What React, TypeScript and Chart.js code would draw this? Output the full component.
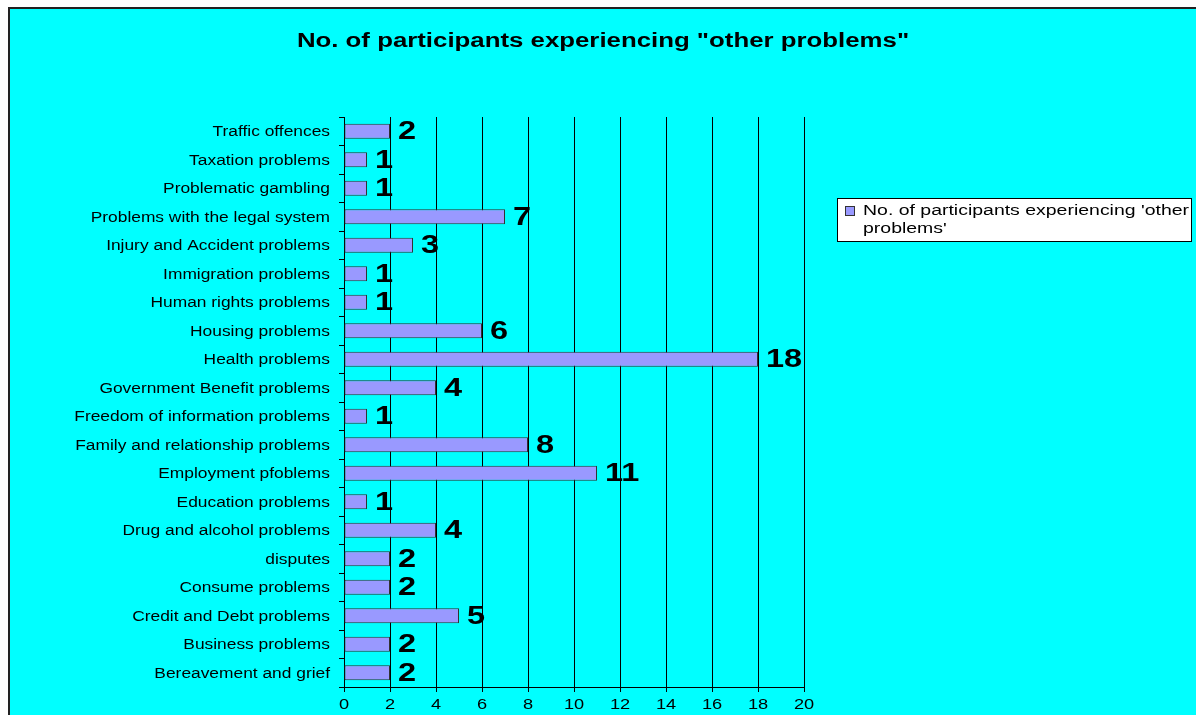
import React, { useEffect, useRef } from "react";
import { Chart, registerables } from "chart.js";

Chart.register(...registerables);

const categories = [
  "Bereavement and grief",
  "Business problems",
  "Credit and Debt problems",
  "Consume problems",
  "disputes",
  "Drug and alcohol problems",
  "Education problems",
  "Employment pfoblems",
  "Family and relationship problems",
  "Freedom of information problems",
  "Government Benefit problems",
  "Health problems",
  "Housing problems",
  "Human rights problems",
  "Immigration problems",
  "Injury and Accident problems",
  "Problems with the legal system",
  "Problematic gambling",
  "Taxation problems",
  "Traffic offences",
];

const participants = [2, 2, 5, 2, 2, 4, 1, 11, 8, 1, 4, 18, 6, 1, 1, 3, 7, 1, 1, 2];

const xTicks = [0, 2, 4, 6, 8, 10, 12, 14, 16, 18, 20];

const titleText = 'No. of participants experiencing "other problems"';
const legendLines = ["No. of participants experiencing 'other", "problems'"];

const W = 1188;
const H = 708;
const FONT = "'Liberation Sans', Arial, sans-serif";

function stretchText(
  ctx: CanvasRenderingContext2D,
  text: string,
  x: number,
  y: number,
  sx: number,
  align: CanvasTextAlign
) {
  ctx.save();
  ctx.translate(x, y);
  ctx.scale(sx, 1);
  ctx.textAlign = align;
  ctx.fillText(text, 0, 0);
  ctx.restore();
}

export default function App() {
  const ref = useRef<HTMLCanvasElement | null>(null);

  useEffect(() => {
    if (!ref.current) return;

    const decor = {
      id: "decor",
      beforeDraw(chart: any) {
        const ctx = chart.ctx;
        ctx.save();
        ctx.fillStyle = "#00FFFF";
        ctx.fillRect(0, 0, chart.width, chart.height);
        ctx.strokeStyle = "#222";
        ctx.lineWidth = 2;
        ctx.beginPath();
        ctx.moveTo(1, chart.height);
        ctx.lineTo(1, 1);
        ctx.lineTo(chart.width, 1);
        ctx.stroke();
        ctx.restore();
      },
      afterDraw(chart: any) {
        const ctx = chart.ctx as CanvasRenderingContext2D;
        ctx.save();
        ctx.fillStyle = "#000";
        ctx.textBaseline = "middle";

        // title
        ctx.font = `bold 20px ${FONT}`;
        stretchText(ctx, titleText, 595, 34, 1.29, "center");

        // category labels
        const ys = chart.scales.y;
        ctx.font = `14px ${FONT}`;
        categories.forEach((c, i) => {
          stretchText(ctx, c, 322, ys.getPixelForValue(i) + 1, 1.24, "right");
        });

        // x tick labels
        const xs = chart.scales.x;
        xTicks.forEach((v) => {
          stretchText(ctx, String(v), xs.getPixelForValue(v), 698, 1.3, "center");
        });

        // data labels
        const meta = chart.getDatasetMeta(0);
        ctx.font = `bold 25px ${FONT}`;
        meta.data.forEach((bar: any, i: number) => {
          stretchText(ctx, String(participants[i]), bar.x + 8, bar.y + 1, 1.3, "left");
        });

        // legend
        const lx = 829.5, ly = 191.5, lw = 354, lh = 43;
        ctx.fillStyle = "#fff";
        ctx.fillRect(lx, ly, lw, lh);
        ctx.strokeStyle = "#000";
        ctx.lineWidth = 1;
        ctx.strokeRect(lx, ly, lw, lh);
        ctx.fillStyle = "#9999FF";
        ctx.fillRect(837.5, 199.5, 9, 9);
        ctx.strokeStyle = "#333";
        ctx.strokeRect(837.5, 199.5, 9, 9);
        ctx.fillStyle = "#000";
        ctx.font = `14px ${FONT}`;
        stretchText(ctx, legendLines[0], 855, 204, 1.39, "left");
        stretchText(ctx, legendLines[1], 855, 222, 1.39, "left");
        ctx.restore();
      },
    };

    const chart = new Chart(ref.current, {
      type: "bar",
      data: {
        labels: categories,
        datasets: [
          {
            label: "No. of participants experiencing 'other problems'",
            data: participants,
            backgroundColor: "#9999FF",
            borderColor: "#333333",
            borderWidth: 1,
            borderSkipped: false,
            barPercentage: 0.53,
            categoryPercentage: 1,
          },
        ],
      },
      options: {
        indexAxis: "y",
        animation: false,
        responsive: false,
        maintainAspectRatio: false,
        layout: { padding: { left: 0, right: W - 796, top: 110, bottom: 0 } },
        plugins: {
          legend: { display: false },
          title: { display: false },
          tooltip: { enabled: false },
        },
        scales: {
          x: {
            min: 0,
            max: 20,
            afterBuildTicks(scale: any) {
              scale.ticks = xTicks.map((v) => ({ value: v }));
            },
            afterFit(scale: any) {
              scale.height = 28;
            },
            grid: {
              color: "#000",
              lineWidth: 1,
              drawOnChartArea: true,
              drawTicks: true,
              tickLength: 5,
              tickColor: "#000",
            },
            border: { display: true, color: "#000", width: 1 },
            ticks: {
              color: "rgba(0,0,0,0)",
              font: { family: FONT, size: 13 },
              padding: 2,
              maxRotation: 0,
              autoSkip: false,
            },
          },
          y: {
            reverse: true,
            afterFit(scale: any) {
              scale.width = 336;
            },
            grid: {
              offset: true,
              drawOnChartArea: false,
              drawTicks: true,
              tickLength: 5,
              tickColor: "#000",
            },
            border: { display: true, color: "#000", width: 1 },
            ticks: {
              color: "rgba(0,0,0,0)",
              font: { family: FONT, size: 13 },
              padding: 8,
              autoSkip: false,
            },
          },
        },
      },
      plugins: [decor],
    });

    return () => chart.destroy();
  }, []);

  return (
    <div style={{ position: "fixed", left: 8, top: 7, width: W, height: H, overflow: "hidden" }}>
      <canvas ref={ref} width={W} height={H} style={{ display: "block", width: W, height: H }} />
    </div>
  );
}
